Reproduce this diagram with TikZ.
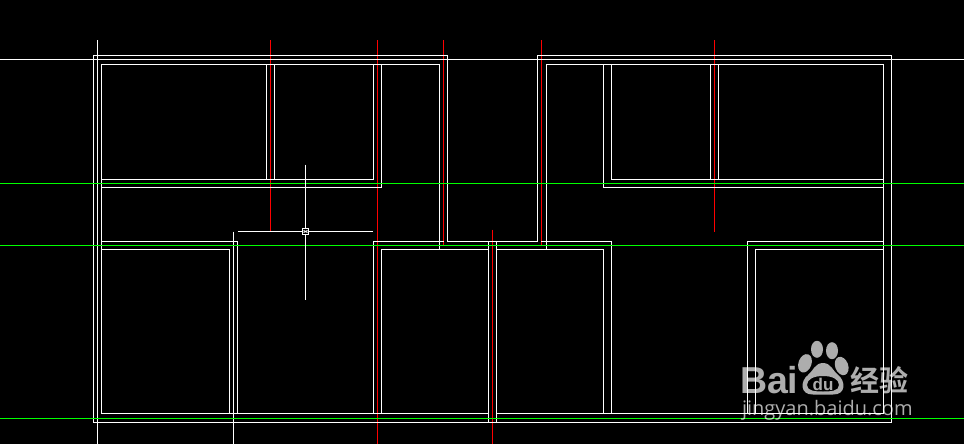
\documentclass[tikz,border=0pt]{standalone}
\usepackage{fontspec}
\setmainfont{Liberation Sans}
\newfontfamily\wmcjk{Noto Sans CJK SC}[BoldFont={* Bold}]
\newfontfamily\wmlatin{Open Sans}
\definecolor{cadred}{RGB}{255,0,0}
\definecolor{cadgreen}{RGB}{0,255,0}
\tikzset{
  wall/.style={draw=white,line width=1pt,line cap=rect,line join=miter},
  axisred/.style={draw=cadred,line width=1pt},
  axisgreen/.style={draw=cadgreen,line width=1pt},
  construct/.style={draw=white,line width=1pt},
  wmark/.style={fill=white,fill opacity=0.68,text opacity=0.68,draw=none},
  wmtext/.style={text=white,text opacity=0.68,inner sep=0pt,outer sep=0pt}
}
\begin{document}
\begin{tikzpicture}[x=1pt,y=-1pt]
\fill[black] (0,0) rectangle (964,444);
\useasboundingbox (0,0) rectangle (964,444);
\begin{scope}[shift={(0.5,0.5)}]
% red axis lines
\foreach \xa/\ya/\yb in {270/40/231,377/40/444,443/40/245,541/40/245,714/40/231,492/229/444}
  \draw[axisred] (\xa,\ya) -- (\xa,\yb);
% construction lines
\draw[construct] (97,40) -- (97,444);
\draw[construct] (-1,59) -- (965,59);
\draw[construct] (233,231) -- (233,444);
% outer wall
\draw[wall] (93,55) -- (447,55) -- (447,241) -- (537,241) -- (537,55) -- (891,55) -- (891,422) -- (93,422) -- cycle;
% inner outline
\draw[wall] (439,249) -- (439,64) -- (101,64) -- (101,413) -- (488,413);
\draw[wall] (496,413) -- (883,413) -- (883,64) -- (546,64) -- (546,249);
% top-left rooms
\draw[wall] (101,179) -- (373,179) -- (373,64);
\draw[wall] (101,187) -- (381,187) -- (381,64);
\draw[wall] (266,64) -- (266,179);
\draw[wall] (274,64) -- (274,179);
% top-right rooms
\draw[wall] (611,64) -- (611,179) -- (883,179);
\draw[wall] (603,64) -- (603,187) -- (883,187);
\draw[wall] (710,64) -- (710,179);
\draw[wall] (718,64) -- (718,179);
% bottom-left room
\draw[wall] (101,241) -- (237,241) -- (237,413);
\draw[wall] (101,249) -- (229,249) -- (229,413);
% bottom-middle room
\draw[wall] (373,413) -- (373,241) -- (443,241);
\draw[wall] (541,241) -- (611,241) -- (611,413);
\draw[wall] (381,413) -- (381,249) -- (488,249);
\draw[wall] (496,249) -- (603,249) -- (603,413);
\draw[wall] (488,241) -- (488,422);
\draw[wall] (496,241) -- (496,422);
% bottom-right room
\draw[wall] (747,413) -- (747,241) -- (883,241);
\draw[wall] (755,413) -- (755,249) -- (883,249);
% green axes
\foreach \ya in {183,245,418}
  \draw[axisgreen] (-1,\ya) -- (965,\ya);
% cursor
\draw[construct] (237,231) -- (302,231);
\draw[construct] (308,231) -- (372,231);
\draw[construct] (305,164) -- (305,228);
\draw[construct] (305,234) -- (305,299);
\draw[construct] (302,228) rectangle (308,234);
\draw[construct] (303,230) -- (307,232);
\draw[construct] (303,232) -- (307,230);
\end{scope}
% watermark
\path[wmark] (805,363.3) ellipse[x radius=6.5,y radius=9.5,rotate=-20];
\path[wmark] (817,349.3) ellipse[x radius=6,y radius=8.5];
\path[wmark] (832,350.7) ellipse[x radius=6,y radius=8.5];
\path[wmark] (841.7,366) ellipse[x radius=6.5,y radius=9.5,rotate=20];
\path[wmark,even odd rule]
  (823,363) .. controls (831,363) and (833,371) .. (838,375)
  .. controls (846,381) and (846,395) .. (833,394.5)
  .. controls (827,394.5) and (819,394.5) .. (813,394.5)
  .. controls (800,395) and (800,381) .. (808,375)
  .. controls (813,371) and (815,363) .. (823,363) -- cycle
  (823,376) .. controls (832,376) and (839,379) .. (839,385)
  .. controls (839,391) and (831,391.5) .. (823,391.5)
  .. controls (815,391.5) and (807,391) .. (807,385)
  .. controls (807,379) and (814,376) .. (823,376) -- cycle;
\node[wmtext,anchor=base west,font=\fontsize{37.5}{37.5}\selectfont\bfseries] (wmbai) at (740,393) {Bai};
\node[wmtext,anchor=base,font=\fontsize{17}{17}\selectfont\bfseries] (wmdu) at (823,390) {du};
\node[wmtext,anchor=base west,font=\wmcjk\fontsize{29}{29}\selectfont\bfseries] (wmjy) at (850,391) {经验};
\node[wmtext,anchor=base west,font=\wmlatin\fontsize{20}{20}\selectfont] (wmurl) at (742,415) {jingyan.baidu.com};
\end{tikzpicture}
\end{document}
